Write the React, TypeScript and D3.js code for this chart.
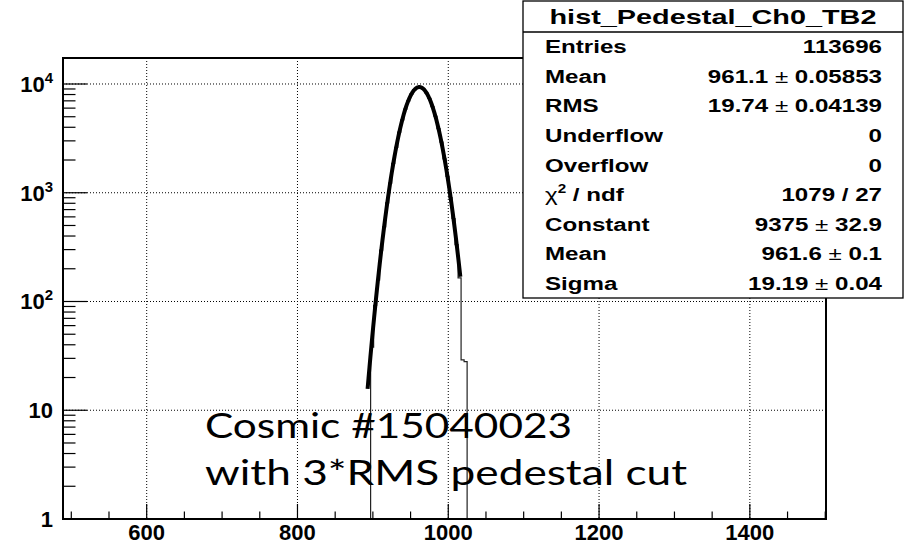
import React from "react";
import * as d3 from "d3";

const W = 905;
const H = 548;

// Histogram: lower bin edges (width 4) and counts
const binWidth = 4;
const binLow = [897, 901, 905, 909, 913, 917, 921, 925, 929, 933, 937, 941, 945, 949, 953, 957, 961, 965, 969, 973, 977, 981, 985, 989, 993, 997, 1001, 1005, 1009, 1013, 1017, 1021];
const binCount = [38, 92, 158, 297, 486, 806, 1228, 1859, 2611, 3602, 4671, 5880, 7003, 8065, 8820, 9312, 9338, 9030, 8296, 7365, 6198, 5051, 3889, 2915, 2048, 1417, 902, 580, 333, 165, 29, 28];

// Gaussian fit parameters (from stats box) and fit range
const fitConstant = 9375;
const fitMean = 961.6;
const fitSigma = 19.19;
const fitRange = [893, 1016];

// Axes
const xDomain = [489, 1501];
const yDomain = [1, 17340];
const xMajor = [600, 800, 1000, 1200, 1400];
const xMajorLabels = ["600", "800", "1000", "1200", "1400"];
const xMinor = [500, 550, 650, 700, 750, 850, 900, 950, 1050, 1100, 1150, 1250, 1300, 1350, 1450, 1500];
const yMajor = [1, 10, 100, 1000, 10000];
const yBase = ["1", "10", "10", "10", "10"];
const yExp = ["", "", "2", "3", "4"];
const yMinorMult = [2, 3, 4, 5, 6, 7, 8, 9];

// Stats box
const statsTitle = "hist_Pedestal_Ch0_TB2";
const statLabels = ["Entries", "Mean", "RMS", "Underflow", "Overflow", "CHI", "Constant", "Mean", "Sigma"];
const statValues = ["113696", "961.1 ± 0.05853", "19.74 ± 0.04139", "0", "0", "1079 / 27", "9375 ± 32.9", "961.6 ± 0.1", "19.19 ± 0.04"];

const noteLines = ["Cosmic #15040023", "with 3*RMS pedestal cut"];

const ROOTFONT = "'Liberation Sans', Arial, Helvetica, sans-serif";

function ValueText({ v }: { v: string }) {
  const parts = v.split("±");
  if (parts.length === 1) return <>{v}</>;
  return (
    <>
      {parts[0]}
      <tspan fontWeight="normal">±</tspan>
      {parts[1]}
    </>
  );
}

export default function App() {
  const L = 63, R = 826, T = 58, B = 519;
  const x = d3.scaleLinear().domain(xDomain).range([L, R]);
  const y = d3.scaleLog().domain(yDomain).range([B, T]);

  // histogram step path
  const pts: [number, number][] = [];
  pts.push([x(binLow[0]), B]);
  binLow.forEach((lo, i) => {
    pts.push([x(lo), y(binCount[i])]);
    pts.push([x(lo + binWidth), y(binCount[i])]);
  });
  pts.push([x(binLow[binLow.length - 1] + binWidth), B]);
  const histPath = d3.line()(pts) as string;

  const gauss = (v: number) => fitConstant * Math.exp(-((v - fitMean) ** 2) / (2 * fitSigma * fitSigma));
  const fitXs = d3.range(0, 101).map((i) => fitRange[0] + ((fitRange[1] - fitRange[0]) * i) / 100);
  const fitPath = d3
    .line<number>()
    .x((v) => x(v))
    .y((v) => y(gauss(v)))(fitXs) as string;

  const yMinor: number[] = [];
  yMajor.forEach((d) => yMinorMult.forEach((m) => { if (d * m <= yDomain[1]) yMinor.push(d * m); }));

  const boxX = 523, boxY = 1, boxW = 380, boxH = 297, sepY = 32;
  const rowH = (boxH - (sepY - boxY)) / statLabels.length;
  const sx = 1.27;

  return (
    <svg
      width={W}
      height={H}
      viewBox={`0 0 ${W} ${H}`}
      style={{ position: "absolute", left: 0, top: 0, background: "#fff" }}
    >
      <rect x={0} y={0} width={W} height={H} fill="#fff" />
      {/* grid */}
      <g stroke="#000" strokeWidth={1} strokeDasharray="1 2" fill="none">
        {xMajor.map((v) => (
          <line key={"gx" + v} x1={x(v)} x2={x(v)} y1={T} y2={B} />
        ))}
        {yMajor.map((v) => (
          <line key={"gy" + v} x1={L} x2={R} y1={y(v)} y2={y(v)} />
        ))}
      </g>
      {/* histogram */}
      <path d={histPath} fill="none" stroke="#222" strokeWidth={1.2} />
      {/* fit */}
      <path d={fitPath} fill="none" stroke="#000" strokeWidth={4} strokeLinejoin="round" />
      {/* ticks */}
      <g stroke="#000" strokeWidth={1.2}>
        {xMajor.map((v) => (
          <line key={"tx" + v} x1={x(v)} x2={x(v)} y1={B} y2={B - 15} />
        ))}
        {xMinor.map((v) => (
          <line key={"tmx" + v} x1={x(v)} x2={x(v)} y1={B} y2={B - 7.5} />
        ))}
        {yMajor.map((v) => (
          <line key={"ty" + v} x1={L} x2={L + 24} y1={y(v)} y2={y(v)} />
        ))}
        {yMinor.map((v) => (
          <line key={"tmy" + v} x1={L} x2={L + 12.5} y1={y(v)} y2={y(v)} />
        ))}
      </g>
      {/* frame */}
      <rect x={L} y={T} width={R - L} height={B - T} fill="none" stroke="#000" strokeWidth={2} />
      {/* x labels */}
      <g fontFamily={ROOTFONT} fontWeight="bold" fontSize={22} textAnchor="middle" fill="#000">
        {xMajor.map((v, i) => (
          <text key={"lx" + v} x={x(v)} y={540}>
            {xMajorLabels[i]}
          </text>
        ))}
      </g>
      {/* y labels */}
      <g fontFamily={ROOTFONT} fontWeight="bold" fill="#000" textAnchor="end">
        {yMajor.map((v, i) => (
          <text key={"ly" + v} x={53} y={y(v) + 8} fontSize={22}>
            {yBase[i]}
            {yExp[i] && (
              <tspan fontSize={15} dy={-9}>
                {yExp[i]}
              </tspan>
            )}
          </text>
        ))}
      </g>
      {/* annotation */}
      <g fontFamily="Lato, 'Open Sans', sans-serif" fontSize={35} fill="#000">
        <text x={205} y={438} textLength={367} lengthAdjust="spacingAndGlyphs">
          {noteLines[0]}
        </text>
        <text x={205} y={485} textLength={482} lengthAdjust="spacingAndGlyphs">
          {noteLines[1]}
        </text>
      </g>
      {/* stats box */}
      <rect x={boxX} y={boxY} width={boxW} height={boxH} fill="#fff" stroke="#000" strokeWidth={1.3} />
      <line x1={boxX} x2={boxX + boxW} y1={sepY} y2={sepY} stroke="#000" strokeWidth={1.3} />
      <text
        x={boxX + boxW / 2}
        y={24}
        fontFamily={ROOTFONT}
        fontWeight="bold"
        fontSize={21}
        textAnchor="middle"
        textLength={327}
        lengthAdjust="spacingAndGlyphs"
      >
        {statsTitle}
      </text>
      <g fontFamily={ROOTFONT} fontWeight="bold" fontSize={19} fill="#000">
        {statLabels.map((lab, i) => {
          const cy = sepY + rowH * (i + 0.5) + 6.5;
          return (
            <g key={"st" + i}>
              <g transform={`translate(545,${cy}) scale(${sx},1)`}>
                <text x={0} y={0}>
                  {lab === "CHI" ? (
                    <>
                      <tspan fontWeight="normal">χ</tspan>
                      <tspan fontSize={12} dy={-8}>2</tspan>
                      <tspan dy={8}> / ndf</tspan>
                    </>
                  ) : (
                    lab
                  )}
                </text>
              </g>
              <g transform={`translate(882,${cy}) scale(${sx},1)`}>
                <text x={0} y={0} textAnchor="end">
                  <ValueText v={statValues[i]} />
                </text>
              </g>
            </g>
          );
        })}
      </g>
    </svg>
  );
}
